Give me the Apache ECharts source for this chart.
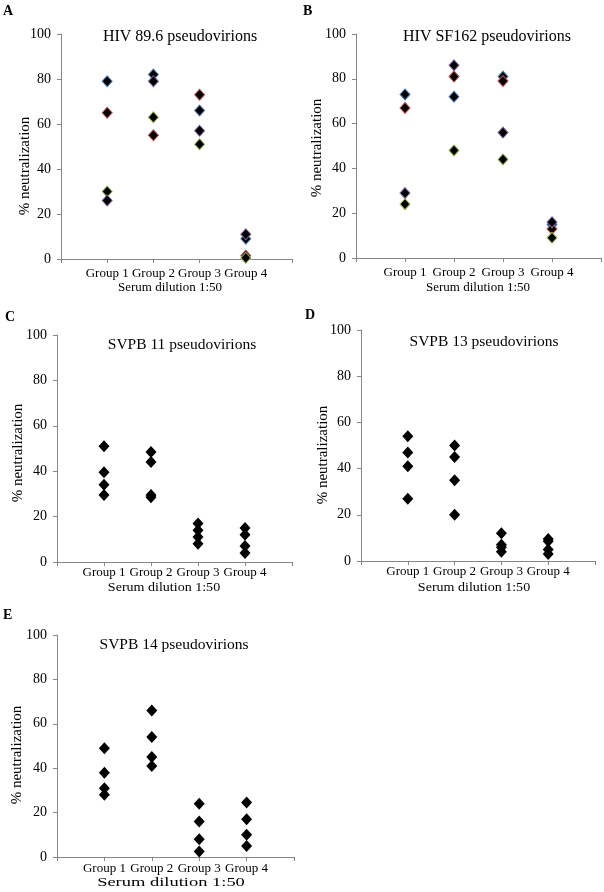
<!DOCTYPE html>
<html>
<head>
<meta charset="utf-8">
<script src="https://cdn.jsdelivr.net/npm/echarts@6/dist/echarts.min.js"></script>
<style>
  html, body { margin: 0; padding: 0; background: #fff; }
  #chart { width: 604px; height: 892px; }
</style>
</head>
<body>
<div id="chart"></div>
<script>
// categories on the x axis (placed at x = 1..4)
let groups = ['Group 1', 'Group 2', 'Group 3', 'Group 4']
let yTicks = [0, 20, 40, 60, 80, 100]

// A: HIV 89.6, one value per group for each of the 4 sera
let hiv896Blue = [79, 82, 66, 9]
let hiv896Red = [65, 55, 73, 1.5]
let hiv896Green = [30, 63, 51, 0.5]
let hiv896Purple = [26, 79, 57, 11]

// B: HIV SF162
let sf162Blue = [73, 72, 81, 15]
let sf162Red = [67, 81, 79, 13]
let sf162Green = [24, 48, 44, 9]
let sf162Purple = [29, 86, 56, 16]

// C: SVPB 11
let svpb11A = [51, 48.5, 17, 15]
let svpb11B = [39.5, 44, 14, 12]
let svpb11C = [34, 29.5, 11, 7]
let svpb11D = [29.5, 28.5, 8, 4]

// D: SVPB 13
let svpb13A = [54, 50, 12, 9.5]
let svpb13B = [47, 45, 7, 8.5]
let svpb13C = [41, 35, 6, 5]
let svpb13D = [27, 20, 4, 3]

// E: SVPB 14
let svpb14A = [49, 66, 24, 24.5]
let svpb14B = [38, 54, 16, 17]
let svpb14C = [31, 45, 8, 10]
let svpb14D = [28, 41, 2.5, 5]

let serif = '"Liberation Serif", "DejaVu Serif", serif'
let axisGray = '#868686'
let excelColors = ['#4F81BD', '#C0504D', '#9BBB59', '#8064A2']
let xName = 'Serum dilution 1:50'
let yName = '% neutralization'

// layout of each panel (the axis names are placed by hand, the source figure is not symmetric)
let panels = [
  {
    letter: 'A', title: 'HIV 89.6 pseudovirions', titleSize: 16,
    grid: {left: 61, top: 34, width: 231, height: 225},
    titlePos: [180, 37], letterPos: [3, 4], labelMargin: 8,
    yNamePos: [25, 166], xNamePos: [170, 288], xNameScale: 1,
    data: [hiv896Blue, hiv896Red, hiv896Green, hiv896Purple], colored: true
  },
  {
    letter: 'B', title: 'HIV SF162 pseudovirions', titleSize: 16,
    grid: {left: 356, top: 34, width: 246, height: 224},
    titlePos: [487, 37], letterPos: [303, 4], labelMargin: 8,
    yNamePos: [317, 148], xNamePos: [478, 288], xNameScale: 1,
    data: [sf162Blue, sf162Red, sf162Green, sf162Purple], colored: true
  },
  {
    letter: 'C', title: 'SVPB 11 pseudovirions', titleSize: 15.5,
    grid: {left: 57, top: 335, width: 235, height: 227},
    titlePos: [182, 345], letterPos: [5, 310], labelMargin: 4,
    yNamePos: [18, 453], xNamePos: [164, 588], xNameScale: 1.08,
    data: [svpb11A, svpb11B, svpb11C, svpb11D], colored: false
  },
  {
    letter: 'D', title: 'SVPB 13 pseudovirions', titleSize: 15.5,
    grid: {left: 361, top: 330, width: 234, height: 231},
    titlePos: [484, 342], letterPos: [305, 308], labelMargin: 4,
    yNamePos: [323, 455], xNamePos: [474, 588], xNameScale: 1.08,
    data: [svpb13A, svpb13B, svpb13C, svpb13D], colored: false
  },
  {
    letter: 'E', title: 'SVPB 14 pseudovirions', titleSize: 15.5,
    grid: {left: 57, top: 635, width: 237, height: 222},
    titlePos: [174, 645], letterPos: [3, 608], labelMargin: 5,
    yNamePos: [17, 755], xNamePos: [171, 883], xNameScale: 1.42,
    data: [svpb14A, svpb14B, svpb14C, svpb14D], colored: false
  }
]

let grids = []
let xAxes = []
let yAxes = []
let series = []
let graphics = []

panels.forEach(function (p, i) {
  grids.push(p.grid)
  xAxes.push({
    type: 'value',
    gridIndex: i,
    min: 0,
    max: groups.length + 1,
    interval: 1,
    axisLine: {lineStyle: {color: axisGray}},
    axisTick: {show: true, inside: false, length: 4, lineStyle: {color: axisGray}},
    splitLine: {show: false},
    axisLabel: {
      margin: p.labelMargin,
      fontFamily: serif,
      fontSize: 13,
      color: '#000',
      formatter: function (v) {
        return groups[v - 1] || ''
      }
    }
  })
  yAxes.push({
    type: 'value',
    gridIndex: i,
    min: yTicks[0],
    max: yTicks[yTicks.length - 1],
    interval: 20,
    axisLine: {show: true, lineStyle: {color: axisGray}},
    axisTick: {show: true, inside: false, length: 4, lineStyle: {color: axisGray}},
    splitLine: {show: false},
    axisLabel: {margin: 10, fontFamily: serif, fontSize: 14, color: '#000'}
  })
  p.data.forEach(function (vals, k) {
    series.push({
      type: 'scatter',
      xAxisIndex: i,
      yAxisIndex: i,
      symbol: 'diamond',
      symbolSize: p.colored ? [10, 11] : [11, 12],
      itemStyle: p.colored
        ? {color: '#000', opacity: 1, borderColor: excelColors[k], borderWidth: 1}
        : {color: '#000', opacity: 1},
      data: vals.map(function (v, g) { return [g + 1, v] })
    })
  })
  graphics.push({
    type: 'text',
    x: p.titlePos[0],
    y: p.titlePos[1],
    style: {
      text: p.title, fontFamily: serif, fontSize: p.titleSize, fill: '#000',
      textAlign: 'center', textVerticalAlign: 'middle'
    }
  })
  graphics.push({
    type: 'text',
    x: p.letterPos[0],
    y: p.letterPos[1],
    style: {text: p.letter, fontFamily: serif, fontSize: 14, fontWeight: 'bold', fill: '#000'}
  })
  graphics.push({
    type: 'text',
    x: p.yNamePos[0],
    y: p.yNamePos[1],
    rotation: Math.PI / 2,
    style: {
      text: yName, fontFamily: serif, fontSize: 15, fill: '#000',
      textAlign: 'center', textVerticalAlign: 'middle'
    }
  })
  graphics.push({
    type: 'text',
    x: p.xNamePos[0],
    y: p.xNamePos[1],
    scaleX: p.xNameScale,
    style: {
      text: xName, fontFamily: serif, fontSize: 13, fill: '#000',
      textAlign: 'center', textVerticalAlign: 'middle'
    }
  })
})

let myChart = echarts.init(document.getElementById('chart'))
myChart.setOption({
  animation: false,
  grid: grids,
  xAxis: xAxes,
  yAxis: yAxes,
  series: series,
  graphic: graphics
})
</script>
</body>
</html>
